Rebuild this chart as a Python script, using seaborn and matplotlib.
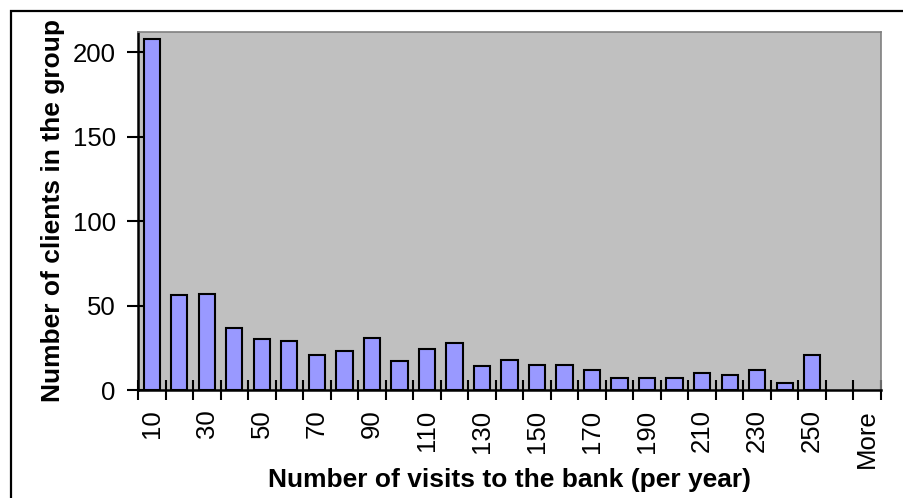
import matplotlib
matplotlib.use("Agg")
import matplotlib.pyplot as plt
from matplotlib.patches import Rectangle
import seaborn as sns
import pandas as pd
import numpy as np

bins = ["10", "20", "30", "40", "50", "60", "70", "80", "90", "100",
        "110", "120", "130", "140", "150", "160", "170", "180", "190", "200",
        "210", "220", "230", "240", "250", "260", "More"]
counts = [208, 56, 57, 37, 30, 29, 21, 23, 31, 17,
          24, 28, 14, 18, 15, 15, 12, 7, 7, 7,
          10, 9, 12, 4, 21, 0, 0]
shown_labels = ["10", "30", "50", "70", "90", "110", "130", "150", "170",
                "190", "210", "230", "250", "More"]
y_ticks = [0, 50, 100, 150, 200]

x_title = "Number of visits to the bank (per year)"
y_title = "Number of clients in the group"

sns.set_style("white")
plt.rcParams["font.family"] = ["Liberation Sans", "DejaVu Sans"]
plt.rcParams["text.color"] = "black"
plt.rcParams["xtick.color"] = "black"
plt.rcParams["ytick.color"] = "black"
plt.rcParams["xtick.labelcolor"] = "black"
plt.rcParams["ytick.labelcolor"] = "black"

W, H = 904, 498
fig = plt.figure(figsize=(W / 100, H / 100), dpi=100)
fig.patch.set_facecolor("white")

L, R, T, B = 138, 881, 32, 390
ax = fig.add_axes([L / W, 1 - B / H, (R - L) / W, (B - T) / H])

df = pd.DataFrame({"bin": bins, "count": counts})
sns.barplot(data=df, x="bin", y="count", order=bins, color="#9999FF",
            saturation=1, edgecolor="black", linewidth=1.5, width=0.59, ax=ax)
for p in ax.patches:
    if p.get_height() == 0:
        p.set_visible(False)

ax.set_facecolor("#C0C0C0")
ax.set_xlim(-0.5, len(bins) - 0.5)
ax.set_ylim(0, 212)
ax.set_xlabel("")
ax.set_ylabel("")

# ticks at category boundaries, labels at centres
ax.set_xticks(np.arange(len(bins) + 1) - 0.5)
ax.set_xticklabels([])
label_pos = [bins.index(s) for s in shown_labels]
ax.set_xticks(label_pos, minor=True)
ax.set_xticklabels(shown_labels, minor=True, rotation=90, fontsize=18.5,
                   color="black")
ax.tick_params(axis="x", which="major", direction="inout", length=15,
               width=1.5, color="black", bottom=True)
ax.tick_params(axis="x", which="minor", length=0, pad=14, bottom=True)

ax.set_yticks(y_ticks)
ax.set_yticklabels([str(v) for v in y_ticks], fontsize=18.5, color="black")
ax.tick_params(axis="y", direction="inout", length=16, width=1.5,
               color="black", pad=8, left=True)

for side in ["left", "bottom"]:
    ax.spines[side].set_color("black")
    ax.spines[side].set_linewidth(1.8)
    ax.spines[side].set_visible(True)
for side in ["top", "right"]:
    ax.spines[side].set_color("#808080")
    ax.spines[side].set_linewidth(1.2)
    ax.spines[side].set_visible(True)

fig.text((L + R) / 2 / W, 1 - 487 / H, x_title, ha="center", va="baseline",
         fontsize=19, fontweight="bold", color="black")
fig.text(60 / W, 1 - (T + B) / 2 / H, y_title, ha="center", va="baseline",
         rotation=90, rotation_mode="anchor", fontsize=19, fontweight="bold",
         color="black")

# outer chart frame (left and top edges visible)
frame = Rectangle((10.5 / W, -0.2), 1.3, (H - 10.5) / H + 0.2,
                  transform=fig.transFigure, fill=False, edgecolor="black",
                  linewidth=1.6, clip_on=False)
fig.patches.append(frame)

fig.savefig("out.png", dpi=100)
